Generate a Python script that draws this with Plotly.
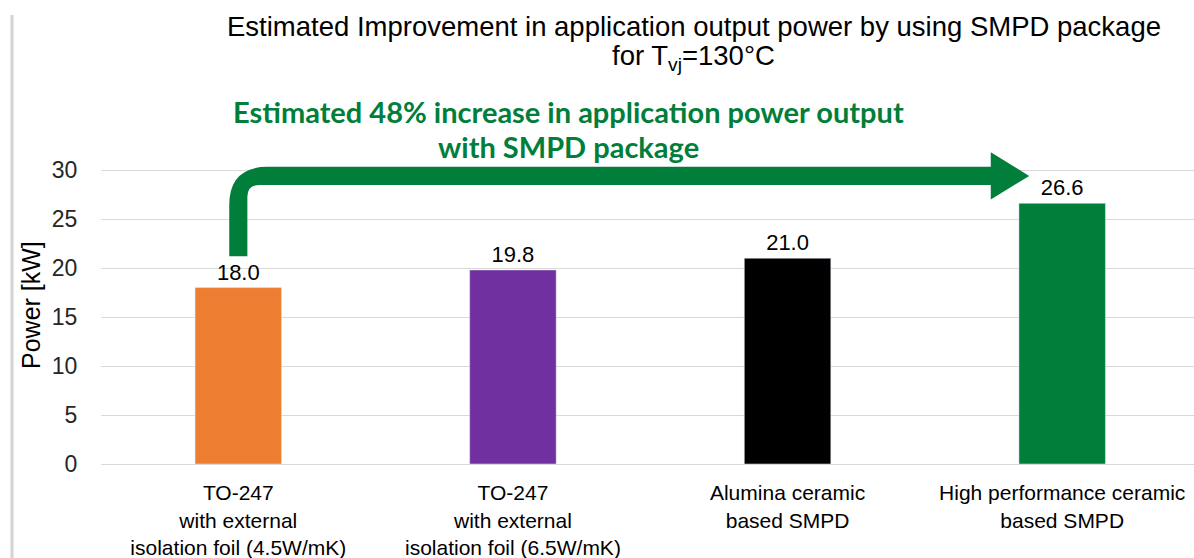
import plotly.graph_objects as go

categories = [
    "TO-247<br>with external<br>isolation foil (4.5W/mK)",
    "TO-247<br>with external<br>isolation foil (6.5W/mK)",
    "Alumina ceramic<br>based SMPD",
    "High performance ceramic<br>based SMPD",
]
power_kw = [18.0, 19.8, 21.0, 26.6]
bar_colors = ["#ED7D31", "#7030A0", "#000000", "#007E3A"]
y_ticks = [0, 5, 10, 15, 20, 25, 30]

GREEN = "#007E3A"
FONT = "Liberation Sans, Arial"
x_pos = list(range(len(categories)))

# pixel geometry helpers for paper coordinates
W, H = 1194, 558
L, R, T, B = 101, 0, 72, 94
PW, PH = W - L - R, H - T - B


def px(xp):
    return (xp - L) / PW


def py(yp):
    return (H - B - yp) / PH


fig = go.Figure()
fig.add_trace(go.Bar(
    x=x_pos, y=power_kw, marker_color=bar_colors, width=0.315,
    text=[f"{v:.1f}" for v in power_kw], textposition="outside",
    textfont=dict(size=22, color="#000000", family=FONT),
    cliponaxis=False, showlegend=False,
))

# arrow from first bar to last bar (annotation decoration)
hx, hy = 0.033, 0.92
yc = 29.4
x0 = x_pos[0]
path = (
    f"M {x0-hx},21.2 L {x0-hx},{yc+hy-3.9} "
    f"Q {x0-hx},{yc+hy} {x0-hx+0.14},{yc+hy} "
    f"L 2.74,{yc+hy} L 2.74,31.8 L 2.88,{yc} L 2.74,27.0 L 2.74,{yc-hy} "
    f"L {x0+hx+0.045},{yc-hy} Q {x0+hx},{yc-hy} {x0+hx},{yc-hy-1.2} "
    f"L {x0+hx},21.2 Z"
)
fig.add_shape(type="path", path=path, xref="x", yref="y",
              fillcolor=GREEN, line=dict(width=0), layer="above")

# slide border shadow on the left
fig.add_shape(type="line", xref="paper", yref="paper",
              x0=px(12), x1=px(12), y0=py(15), y1=py(560),
              line=dict(color="#D4D4D4", width=3))

green_font = dict(family="Lato, Carlito, Calibri", size=29, color=GREEN)
fig.add_annotation(
    x=px(568), y=py(111), xref="paper", yref="paper", xanchor="center", yanchor="middle",
    showarrow=False, text="<b>Estimated 48% increase in application power output</b>",
    font=green_font,
)
fig.add_annotation(
    x=px(568), y=py(146), xref="paper", yref="paper", xanchor="center", yanchor="middle",
    showarrow=False, text="<b>with SMPD package</b>",
    font=green_font,
)
fig.add_annotation(
    x=px(693.5), y=py(26), xref="paper", yref="paper", xanchor="center", yanchor="middle",
    showarrow=False,
    text="Estimated Improvement in application output power by using SMPD package",
    font=dict(family=FONT, size=27.5, color="#000000"),
)
fig.add_annotation(
    x=px(693.5), y=py(58), xref="paper", yref="paper", xanchor="center", yanchor="middle",
    showarrow=False,
    text="for T<sub>vj</sub>=130°C",
    font=dict(family=FONT, size=27.5, color="#000000"),
)
# y-axis title
fig.add_annotation(
    x=px(31), y=py(305), xref="paper", yref="paper", xanchor="center", yanchor="middle",
    showarrow=False, text="Power [kW]", textangle=-90,
    font=dict(family=FONT, size=25, color="#000000"),
)

fig.update_layout(
    width=W, height=H,
    margin=dict(l=L, r=R, t=T, b=B, autoexpand=False),
    paper_bgcolor="white", plot_bgcolor="white",
    bargap=0.685,
    font=dict(family=FONT),
)
fig.update_xaxes(
    range=[-0.5, 3.48], tickvals=x_pos, ticktext=categories,
    showgrid=False, zeroline=False, showline=False, automargin=False,
    tickfont=dict(size=21, color="#000000", family=FONT),
    ticks="outside", ticklen=10, tickcolor="rgba(0,0,0,0)",
)
fig.update_yaxes(
    range=[0, 40], tickvals=y_ticks, automargin=False,
    showgrid=True, gridcolor="#D9D9D9", gridwidth=1,
    zeroline=True, zerolinecolor="#D9D9D9", zerolinewidth=1,
    tickfont=dict(size=23, color="#262626", family=FONT),
    ticks="outside", ticklen=18, tickcolor="rgba(0,0,0,0)",
)

fig.write_html("out.html", config={"displayModeBar": False},
               post_script="document.body.style.margin='0';")
